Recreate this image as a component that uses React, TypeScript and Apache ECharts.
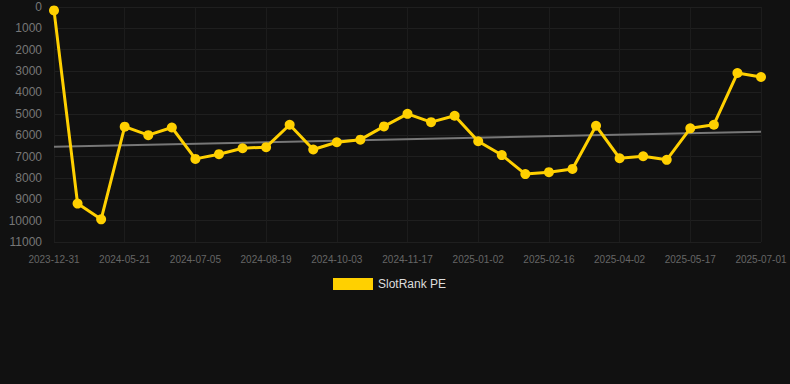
import React, { useEffect, useRef } from "react";
import * as echarts from "echarts";

const categories: string[] = [
  "2023-12-31", "2024-04-21", "2024-05-06", "2024-05-21", "2024-06-05", "2024-06-20",
  "2024-07-05", "2024-07-20", "2024-08-04", "2024-08-19", "2024-09-03", "2024-09-18",
  "2024-10-03", "2024-10-18", "2024-11-02", "2024-11-17", "2024-12-02", "2024-12-17",
  "2025-01-02", "2025-01-17", "2025-02-01", "2025-02-16", "2025-03-03", "2025-03-18",
  "2025-04-02", "2025-04-17", "2025-05-02", "2025-05-17", "2025-06-01", "2025-06-16",
  "2025-07-01",
];

const rankValues: number[] = [
  160, 9200, 9940, 5600, 6000, 5640, 7110, 6890, 6610, 6560, 5510, 6670,
  6330, 6210, 5590, 5000, 5390, 5090, 6285, 6930, 7820, 7730, 7580, 5560,
  7080, 6985, 7155, 5680, 5510, 3090, 3275,
];

const trendPoints: [number, number][] = [
  [0, 6540],
  [30, 5840],
];

const yTicks = { min: 0, max: 11000, interval: 1000 };

export default function App() {
  const ref = useRef<HTMLDivElement>(null);
  useEffect(() => {
    if (!ref.current) return;
    const chart = echarts.init(ref.current, undefined, { renderer: "svg" });
    chart.setOption({
      animation: false,
      backgroundColor: "#111111",
      textStyle: { fontFamily: "Liberation Sans, Arial, sans-serif" },
      grid: { left: 54, right: 29, top: 7, bottom: 142, containLabel: false },
      legend: {
        data: [{ name: "SlotRank PE", icon: "rect" }],
        top: 278,
        left: 333,
        padding: 0,
        itemWidth: 40,
        itemHeight: 12,
        itemGap: 10,
        textStyle: { color: "#dddddd", fontSize: 12 },
      },
      xAxis: {
        type: "category",
        data: categories,
        boundaryGap: false,
        axisLine: { show: true, lineStyle: { color: "#1f1f1f" } },
        axisTick: { show: false },
        axisLabel: { interval: 2, color: "#666666", fontSize: 10, margin: 12 },
        splitLine: { show: true, interval: 2, lineStyle: { color: "#1c1c1c" } },
      },
      yAxis: {
        type: "value",
        inverse: true,
        min: yTicks.min,
        max: yTicks.max,
        interval: yTicks.interval,
        axisLine: { show: false },
        axisTick: { show: false },
        axisLabel: {
          color: "#777777",
          fontSize: 12,
          margin: 12,
          formatter: (v: number) => String(v),
        },
        splitLine: { show: true, lineStyle: { color: "#1f1f1f" } },
      },
      series: [
        {
          name: "SlotRank PE",
          type: "line",
          data: rankValues,
          symbol: "circle",
          symbolSize: 10,
          lineStyle: { color: "#FFD000", width: 3 },
          itemStyle: { color: "#FFD000" },
          z: 3,
        },
        {
          name: "trend",
          type: "line",
          data: trendPoints,
          symbol: "none",
          lineStyle: { color: "#777777", width: 2 },
          itemStyle: { color: "#777777" },
          z: 2,
        },
      ],
    });
    return () => chart.dispose();
  }, []);
  return (
    <div
      ref={ref}
      style={{ position: "fixed", left: 0, top: 0, width: 790, height: 384 }}
    />
  );
}
